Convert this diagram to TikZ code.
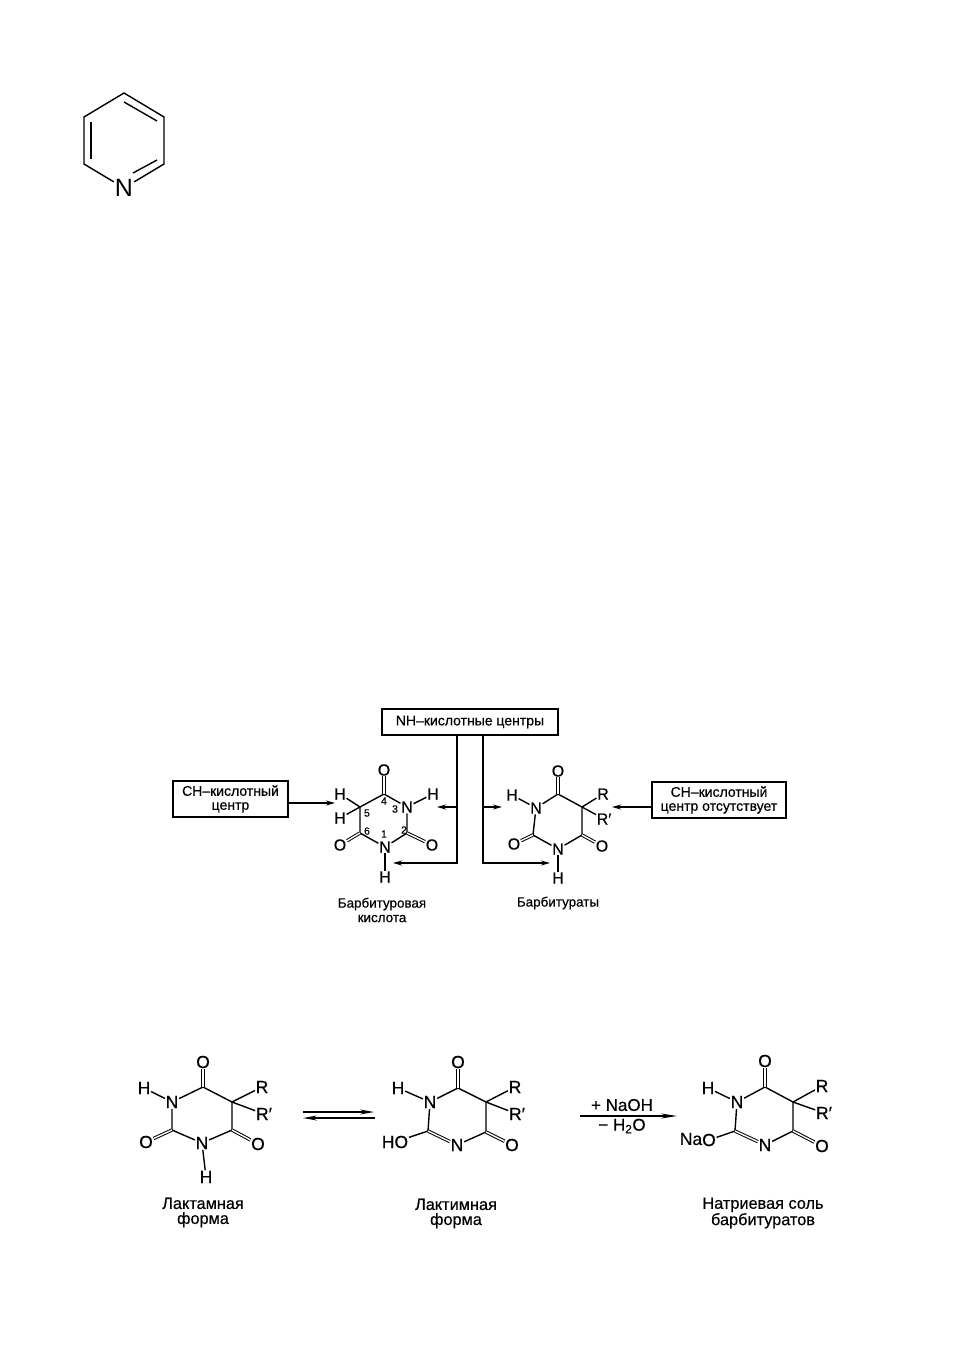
\documentclass[tikz,border=0pt]{standalone}
\usepackage{fontspec}
\setmainfont{Liberation Sans}
\newfontfamily\scanfont[FakeBold=0.5]{Liberation Sans}
\usetikzlibrary{arrows.meta}
\tikzset{
    atom/.style={inner sep=0.6pt,font=\scanfont\fontsize{16}{16}\selectfont},
    lowatom/.style={inner sep=0.6pt,font=\scanfont\fontsize{17.5}{17.5}\selectfont},
    bigatom/.style={inner sep=1pt,font=\fontsize{25}{25}\selectfont},
    ringno/.style={inner sep=0pt,font=\scanfont\fontsize{10.5}{10.5}\selectfont},
    bond/.style={line width=1.4pt},
    dbond/.style={line width=1pt,double,double distance=1.4pt},
    centerbox/.style={draw,line width=1.4pt,inner sep=0pt,align=center,font=\scanfont\fontsize{14}{14}\selectfont},
    caption/.style={inner sep=0pt,align=center,font=\scanfont\fontsize{13.4}{14.5}\selectfont},
    lowcaption/.style={inner sep=0pt,align=center,font=\scanfont\fontsize{16.3}{15}\selectfont},
    tagline/.style={line width=1.3pt,-{Stealth[length=9pt,width=5pt]}},
    reagent/.style={inner sep=0pt,font=\scanfont\fontsize{17}{17}\selectfont}
}
\begin{document}
\begin{tikzpicture}[x=1pt,y=-1pt]
    \useasboundingbox (0,0) rectangle (954,1350);
    % pyridine
    \node[bigatom] (pN) at (124,188) {N};
    \coordinate (p1) at (84,164);
    \coordinate (p2) at (84,117);
    \coordinate (p3) at (124,93);
    \coordinate (p4) at (164,117);
    \coordinate (p5) at (164,164);
    \draw[bond] (pN) -- (p1) -- (p2) -- (p3) -- (p4) -- (p5) -- (pN);
    \coordinate (pi1) at (91,122);
    \coordinate (pi2) at (91,159);
    \coordinate (pi3) at (124,102);
    \coordinate (pi4) at (157,121);
    \coordinate (pi5) at (157,160);
    \coordinate (pi6) at (133,173);
    \draw[bond] (pi1) -- (pi2);
    \draw[bond] (pi3) -- (pi4);
    \draw[bond] (pi5) -- (pi6);
    % barbituric acid
    \node[atom] (aO4) at (384,770) {O};
    \node[atom] (aN3) at (407,807) {N};
    \node[atom] (aH3) at (433,794) {H};
    \node[atom] (aO2) at (432,845) {O};
    \node[atom] (aN1) at (385,847) {N};
    \node[atom] (aH1) at (385,877) {H};
    \node[atom] (aO6) at (340,845) {O};
    \node[atom] (aH5) at (340,794) {H};
    \node[atom] (aH6) at (340,818) {H};
    \coordinate (aC4) at (384,794);
    \coordinate (aC2) at (407,833);
    \coordinate (aC6) at (360,833);
    \coordinate (aC5) at (360,807);
    \draw[bond] (aC5) -- (aC4) -- (aN3) -- (aC2) -- (aN1) -- (aC6) -- (aC5);
    \draw[bond] (aN3) -- (aH3);
    \draw[bond] (aN1) -- (aH1);
    \draw[bond] (aC5) -- (aH5);
    \draw[bond] (aC5) -- (aH6);
    \draw[dbond] (aC4) -- (aO4);
    \draw[dbond] (aC2) -- (aO2);
    \draw[dbond] (aC6) -- (aO6);
    \node[ringno] (an4) at (384,801) {4};
    \node[ringno] (an3) at (395,809) {3};
    \node[ringno] (an5) at (367,813) {5};
    \node[ringno] (an6) at (367,831) {6};
    \node[ringno] (an2) at (404,830) {2};
    \node[ringno] (an1) at (384,834) {1};
    \node[caption] (acap) at (382,910) {Барбитуровая\\кислота};
    % barbiturates
    \node[atom] (bO4) at (558,771) {O};
    \node[atom] (bR) at (603,794) {R};
    \node[atom] (bRp) at (604,819) {R′};
    \node[atom] (bO6) at (602,846) {O};
    \node[atom] (bN1) at (558,849) {N};
    \node[atom] (bH1) at (558,878) {H};
    \node[atom] (bO2) at (514,844) {O};
    \node[atom] (bN3) at (536,808) {N};
    \node[atom] (bH3) at (512,795) {H};
    \coordinate (bC4) at (558,794);
    \coordinate (bC5) at (582,807);
    \coordinate (bC6) at (582,835);
    \coordinate (bC2) at (533,835);
    \draw[bond] (bN3) -- (bC4) -- (bC5) -- (bC6) -- (bN1) -- (bC2) -- (bN3);
    \draw[bond] (bN3) -- (bH3);
    \draw[bond] (bN1) -- (bH1);
    \draw[bond] (bC5) -- (bR);
    \draw[bond] (bC5) -- (bRp);
    \draw[dbond] (bC4) -- (bO4);
    \draw[dbond] (bC6) -- (bO6);
    \draw[dbond] (bC2) -- (bO2);
    \node[caption] (bcap) at (558,903) {Барбитураты};
    % centre boxes
    \node[centerbox,minimum width=115pt,minimum height=36pt] (chbox) at (230.5,799) {CH–кислотный\\центр};
    \node[centerbox,minimum width=176pt,minimum height=26pt] (nhbox) at (470,722) {NH–кислотные центры};
    \node[centerbox,minimum width=134pt,minimum height=36pt] (nobox) at (719,800) {CH–кислотный\\центр отсутствует};
    \coordinate (chend) at (335,803);
    \draw[tagline] (chbox.east |- chend) -- (chend);
    \coordinate (noend) at (612,807);
    \draw[tagline] (nobox.west |- noend) -- (noend);
    \coordinate (nhl) at (457,863);
    \coordinate (nhlend) at (393,863);
    \coordinate (nhlb) at (457,807);
    \coordinate (nhlbend) at (437,807);
    \draw[tagline] (nhbox.south -| nhl) -- (nhl) -- (nhlend);
    \draw[tagline] (nhlb) -- (nhlbend);
    \coordinate (nhr) at (483,863);
    \coordinate (nhrend) at (550,863);
    \coordinate (nhrb) at (483,807);
    \coordinate (nhrbend) at (502,807);
    \draw[tagline] (nhbox.south -| nhr) -- (nhr) -- (nhrend);
    \draw[tagline] (nhrb) -- (nhrbend);
    % lactam form
    \node[lowatom] (cO4) at (203,1062) {O};
    \node[lowatom] (cR) at (262,1087) {R};
    \node[lowatom] (cRp) at (264,1114) {R′};
    \node[lowatom] (cO6) at (258,1144) {O};
    \node[lowatom] (cN1) at (202,1143) {N};
    \node[lowatom] (cH1) at (206,1177) {H};
    \node[lowatom] (cO2) at (146,1142) {O};
    \node[lowatom] (cN3) at (172,1102) {N};
    \node[lowatom] (cH3) at (144,1088) {H};
    \coordinate (cC4) at (203,1087);
    \coordinate (cC5) at (232,1102);
    \coordinate (cC6) at (232,1130);
    \coordinate (cC2) at (172,1130);
    \draw[bond] (cN3) -- (cC4) -- (cC5) -- (cC6) -- (cN1) -- (cC2) -- (cN3);
    \draw[bond] (cN3) -- (cH3);
    \draw[bond] (cN1) -- (cH1);
    \draw[bond] (cC5) -- (cR);
    \draw[bond] (cC5) -- (cRp);
    \draw[dbond] (cC4) -- (cO4);
    \draw[dbond] (cC6) -- (cO6);
    \draw[dbond] (cC2) -- (cO2);
    \node[lowcaption] (ccap) at (203,1212.5) {Лактамная\\форма};
    % equilibrium arrows
    \coordinate (eq1) at (303,1112);
    \coordinate (eq2) at (374,1112);
    \coordinate (eq3) at (375,1118);
    \coordinate (eq4) at (303,1118);
    \draw[line width=1.4pt,-{Stealth[length=14pt,width=5pt]}] (eq1) -- (eq2);
    \draw[line width=1.4pt,-{Stealth[length=14pt,width=5pt]}] (eq3) -- (eq4);
    % lactim form
    \node[lowatom] (dO4) at (458,1062) {O};
    \node[lowatom] (dR) at (515,1087) {R};
    \node[lowatom] (dRp) at (517,1114) {R′};
    \node[lowatom] (dO6) at (512,1145) {O};
    \node[lowatom] (dN1) at (457,1145) {N};
    \node[lowatom] (dO2) at (395,1142) {HO};
    \node[lowatom] (dN3) at (430,1102) {N};
    \node[lowatom] (dH3) at (398,1088) {H};
    \coordinate (dC4) at (458,1088);
    \coordinate (dC5) at (486,1102);
    \coordinate (dC6) at (486,1132);
    \coordinate (dC2) at (428,1131);
    \draw[bond] (dN3) -- (dC4) -- (dC5) -- (dC6) -- (dN1);
    \draw[bond] (dC2) -- (dN3);
    \draw[bond] (dN3) -- (dH3);
    \draw[bond] (dC2) -- (dO2);
    \draw[bond] (dC5) -- (dR);
    \draw[bond] (dC5) -- (dRp);
    \draw[dbond] (dC4) -- (dO4);
    \draw[dbond] (dC6) -- (dO6);
    \draw[dbond] (dC2) -- (dN1);
    \node[lowcaption] (dcap) at (456,1213.5) {Лактимная\\форма};
    % NaOH arrow
    \coordinate (na1) at (580,1116);
    \coordinate (na2) at (677,1116);
    \draw[line width=1.4pt,-{Stealth[length=16pt,width=5pt]}] (na1) -- (na2);
    \node[reagent] (naoh) at (622,1105) {+ NaOH};
    \node[reagent] (water) at (622,1126) {− H\textsubscript{2}O};
    % sodium salt
    \node[lowatom] (eO4) at (765,1061) {O};
    \node[lowatom] (eR) at (822,1086) {R};
    \node[lowatom] (eRp) at (824,1113) {R′};
    \node[lowatom] (eO6) at (822,1146) {O};
    \node[lowatom] (eN1) at (765,1145) {N};
    \node[lowatom] (eO2) at (709,1140) {O};
    \node[lowatom] (eNa) at (691,1139) {Na};
    \node[lowatom] (eN3) at (737,1102) {N};
    \node[lowatom] (eH3) at (708,1088) {H};
    \coordinate (eC4) at (765,1087);
    \coordinate (eC5) at (793,1102);
    \coordinate (eC6) at (793,1131);
    \coordinate (eC2) at (735,1131);
    \draw[bond] (eN3) -- (eC4) -- (eC5) -- (eC6) -- (eN1);
    \draw[bond] (eC2) -- (eN3);
    \draw[bond] (eN3) -- (eH3);
    \draw[bond] (eC2) -- (eO2);
    \draw[bond] (eC5) -- (eR);
    \draw[bond] (eC5) -- (eRp);
    \draw[dbond] (eC4) -- (eO4);
    \draw[dbond] (eC6) -- (eO6);
    \draw[dbond] (eC2) -- (eN1);
    \node[lowcaption] (ecap) at (763,1213) {Натриевая соль\\барбитуратов};
\end{tikzpicture}
\end{document}
